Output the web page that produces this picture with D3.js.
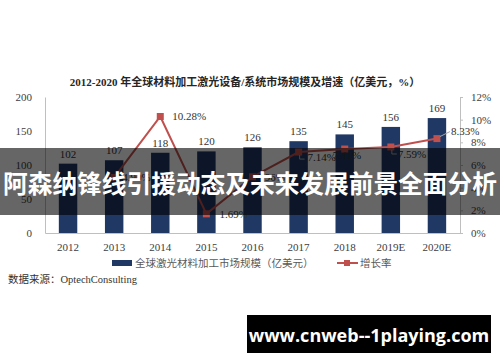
<!DOCTYPE html>
<html>
<head>
<meta charset="utf-8">
<script src="https://cdn.jsdelivr.net/npm/d3@7"></script>
<style>
  body { margin: 0; background: #fff; }
  svg { display: block; }
  .tick text { font-family: "Liberation Serif", serif; font-size: 11px; fill: #404040; }
</style>
</head>
<body>
<svg width="500" height="362"></svg>
<script>
// chart data
const years = ["2012", "2013", "2014", "2015", "2016", "2017", "2018", "2019E", "2020E"];
const marketSize = [102, 107, 118, 120, 126, 135, 145, 156, 169];
const growthYears = ["2013", "2014", "2015", "2016", "2017", "2018", "2019E", "2020E"];
const growthRate = [4.90, 10.28, 1.69, 4.96, 7.14, 7.41, 7.59, 8.33];
const leftTicks = [0, 50, 100, 150, 200];
const rightTicks = [0, 2, 4, 6, 8, 10, 12];

const svg = d3.select('svg');
const serif = '"Liberation Serif", "Noto Sans CJK SC", serif';
const cjk = '"Liberation Serif", "Noto Sans CJK SC", sans-serif';

const plotL = 45, plotR = 460, plotT = 97, plotB = 233;

const x = d3.scaleBand().domain(years).range([plotL, plotR]).paddingInner(0.6).paddingOuter(0.3);
const yL = d3.scaleLinear().domain([0, 200]).range([plotB, plotT]);
const yR = d3.scaleLinear().domain([0, 12]).range([plotB, plotT]);

// title
svg.append('text')
  .attr('x', 245).attr('y', 86)
  .attr('text-anchor', 'middle')
  .style('font-family', cjk).style('font-size', '11px').style('font-weight', 'bold')
  .style('fill', '#262626')
  .text('2012-2020 年全球材料加工激光设备/系统市场规模及增速（亿美元，%）');

// axes
const axL = svg.append('g').attr('transform', `translate(${plotL},0)`)
  .call(d3.axisLeft(yL).tickValues(leftTicks).tickSize(0).tickPadding(13));
const axR = svg.append('g').attr('transform', `translate(${plotR},0)`)
  .call(d3.axisRight(yR).tickValues(rightTicks).tickSize(3).tickPadding(8).tickFormat(d => d + '%'));
const axB = svg.append('g').attr('transform', `translate(0,${plotB})`)
  .call(d3.axisBottom(x).tickSize(0).tickPadding(10));
[axL, axR, axB].forEach(a => {
  a.select('.domain').attr('stroke', '#bfbfbf');
  a.selectAll('.tick line').attr('stroke', '#bfbfbf');
});

// bars
svg.selectAll('rect.bar')
  .data(years)
  .join('rect')
  .attr('class', 'bar')
  .attr('x', d => x(d))
  .attr('y', (d, i) => yL(marketSize[i]))
  .attr('width', x.bandwidth())
  .attr('height', (d, i) => plotB - yL(marketSize[i]))
  .attr('fill', '#203864');

svg.selectAll('text.val')
  .data(years)
  .join('text')
  .attr('class', 'val')
  .attr('x', d => x(d) + x.bandwidth() / 2)
  .attr('y', (d, i) => yL(marketSize[i]) - 6)
  .attr('text-anchor', 'middle')
  .style('font-family', serif).style('font-size', '11px').style('fill', '#333')
  .text((d, i) => marketSize[i]);

// growth line
const pts = growthYears.map((d, i) => ({ x: x(d) + x.bandwidth() / 2, y: yR(growthRate[i]), v: growthRate[i] }));
svg.append('path')
  .datum(pts)
  .attr('d', d3.line().x(d => d.x).y(d => d.y))
  .attr('fill', 'none')
  .attr('stroke', '#c0504d')
  .attr('stroke-width', 2);

svg.selectAll('rect.pt')
  .data(pts)
  .join('rect')
  .attr('class', 'pt')
  .attr('x', d => d.x - 3.5).attr('y', d => d.y - 3.5)
  .attr('width', 7).attr('height', 7)
  .attr('fill', '#c0504d');

// label offsets for the growth values
const labOff = [[8, 4], [12, 4], [13, 4], [4, 4], [9, 9], [-12, 10], [7, 11], [14, -4]];
svg.selectAll('text.rate')
  .data(pts)
  .join('text')
  .attr('class', 'rate')
  .attr('x', (d, i) => d.x + labOff[i][0])
  .attr('y', (d, i) => d.y + labOff[i][1])
  .style('font-family', serif).style('font-size', '11px').style('fill', '#333')
  .text(d => d.v.toFixed(2) + '%');

// leader lines
const leaders = [[4, 'v'], [6, 'v'], [7, 'd']];
leaders.forEach(([i, t]) => {
  const p = pts[i];
  const d = t === 'v'
    ? `M${p.x + 1},${p.y + 3}V${p.y + 7}H${p.x + 6}`
    : `M${p.x + 3},${p.y - 2}L${p.x + 13},${p.y - 7}`;
  svg.append('path').attr('d', d).attr('fill', 'none').attr('stroke', '#a6a6a6').attr('stroke-width', 1);
});

// legend
const lg = svg.append('g').attr('transform', 'translate(0,263)');
lg.append('rect').attr('x', 112).attr('y', -3).attr('width', 20).attr('height', 6).attr('fill', '#203864');
lg.append('text').attr('x', 135).attr('y', 4)
  .style('font-family', cjk).style('font-size', '10.5px').style('fill', '#595959')
  .text('全球激光材料加工市场规模（亿美元）');
lg.append('line').attr('x1', 337).attr('x2', 358).attr('y1', 0).attr('y2', 0)
  .attr('stroke', '#c0504d').attr('stroke-width', 2);
lg.append('rect').attr('x', 344).attr('y', -3).attr('width', 6).attr('height', 6).attr('fill', '#c0504d');
lg.append('text').attr('x', 360).attr('y', 4)
  .style('font-family', cjk).style('font-size', '10.5px').style('fill', '#595959')
  .text('增长率');

// source
svg.append('text').attr('x', 8).attr('y', 283)
  .style('font-family', cjk).style('font-size', '10.5px').style('fill', '#333')
  .text('数据来源：OptechConsulting');

// overlay banner
svg.append('rect').attr('x', 0).attr('y', 148).attr('width', 500).attr('height', 67)
  .attr('fill', 'rgba(0,0,0,0.6)');
svg.append('text').attr('x', 250).attr('y', 182)
  .attr('text-anchor', 'middle').attr('dominant-baseline', 'central')
  .style('font-family', '"Noto Sans CJK SC", sans-serif').style('font-size', '24.7px').style('font-weight', 'bold')
  .style('fill', '#fff')
  .text('阿森纳锋线引援动态及未来发展前景全面分析');

// watermark
svg.append('rect').attr('x', 247).attr('y', 315).attr('width', 244).attr('height', 38).attr('fill', '#000');
svg.append('text').attr('x', 369).attr('y', 335)
  .attr('text-anchor', 'middle').attr('dominant-baseline', 'central')
  .style('font-family', '"Open Sans", sans-serif').style('font-size', '18px').style('font-weight', 'bold')
  .style('fill', '#fff')
  .text('www.cnweb--1playing.com');
</script>
</body>
</html>
